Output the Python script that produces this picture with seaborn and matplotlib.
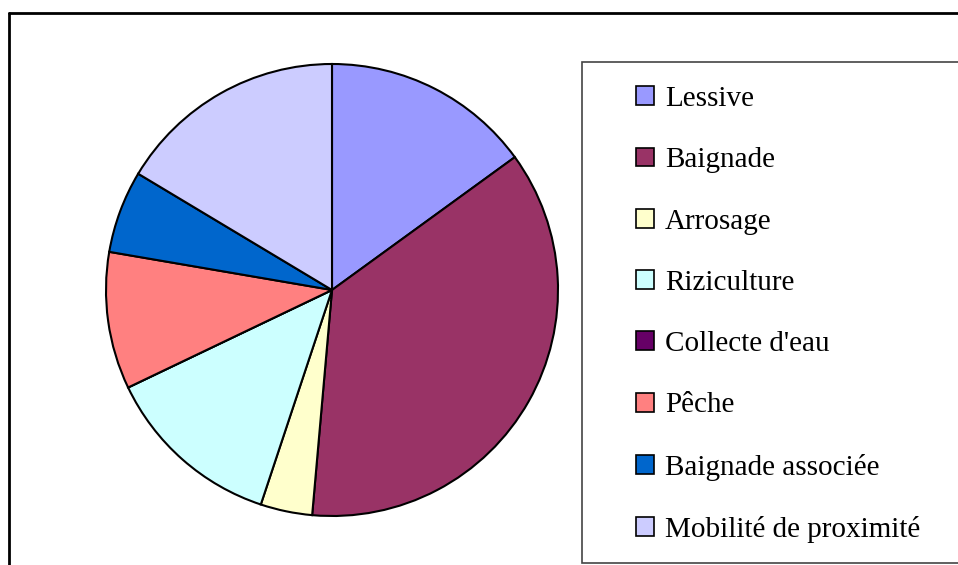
import matplotlib
matplotlib.use("Agg")
import matplotlib.pyplot as plt
from matplotlib.patches import Rectangle
from matplotlib.lines import Line2D
import seaborn as sns

categories = ["Lessive", "Baignade", "Arrosage", "Riziculture", "Collecte d'eau",
              "Pêche", "Baignade associée", "Mobilité de proximité"]
shares = [15.0, 36.4, 3.7, 12.8, 0.0, 9.8, 5.9, 16.4]
colors = ["#9999FF", "#993366", "#FFFFCC", "#CCFFFF", "#660066",
          "#FF8080", "#0066CC", "#CCCCFF"]

sns.set_style("white")
plt.rcParams["font.family"] = ["Liberation Serif", "DejaVu Serif"]

W, H = 958, 565
fig = plt.figure(figsize=(W / 100, H / 100), dpi=100)

# pie axes: centre (332, 290) px, radius 226 px
cx, cy, r = 332, 290, 226
ax = fig.add_axes([(cx - r) / W, (H - cy - r) / H, 2 * r / W, 2 * r / H])
wedges, _ = ax.pie(shares, colors=colors, startangle=90, counterclock=False,
                   wedgeprops=dict(edgecolor="black", linewidth=1.5))
ax.set_xlim(-1, 1)
ax.set_ylim(-1, 1)
ax.axis("off")

# chart frame (top and left edges visible)
fig.add_artist(Line2D([9 / W, 1.01], [1 - 13 / H, 1 - 13 / H],
                      transform=fig.transFigure, color="black", lw=2))
fig.add_artist(Line2D([9 / W, 9 / W], [1 - 13 / H, -0.01],
                      transform=fig.transFigure, color="black", lw=2))

# legend box
fig.add_artist(Rectangle((582 / W, 1 - 563 / H), 0.5, (563 - 62) / H,
                         transform=fig.transFigure, facecolor="white",
                         edgecolor="#444444", lw=1.2, zorder=1))

leg = fig.legend(wedges, categories, loc="upper left",
                 bbox_to_anchor=(636 / W, 1 - 86 / H), frameon=False,
                 fontsize=21, labelcolor="black",
                 handlelength=0.62, handleheight=0.62,
                 handletextpad=0.38, labelspacing=1.21, borderpad=0,
                 borderaxespad=0)
leg.set_zorder(2)
for h in leg.legend_handles:
    h.set_linewidth(1.2)
    h.set_edgecolor("black")

fig.savefig("out.png", dpi=100)
